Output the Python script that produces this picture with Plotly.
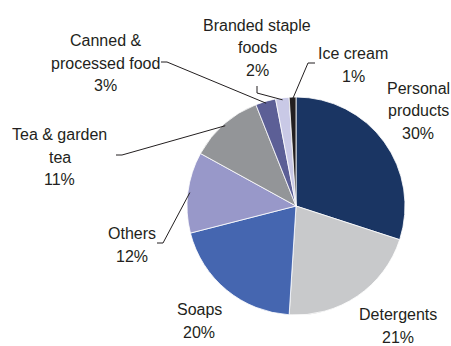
import math
import plotly.graph_objects as go

categories = ["Personal products", "Detergents", "Soaps", "Others",
              "Tea & garden tea", "Canned & processed food",
              "Branded staple foods", "Ice cream"]
values = [30, 21, 20, 12, 11, 3, 2, 1]
label_lines = [["Personal", "products", "30%"], ["Detergents", "21%"], ["Soaps", "20%"],
               ["Others", "12%"], ["Tea & garden", "tea", "11%"],
               ["Canned &", "processed food", "3%"], ["Branded staple", "foods", "2%"],
               ["Ice cream", "1%"]]
colors = ["#1a3563", "#c8c9cb", "#4566b0", "#9898c9", "#939598",
          "#5c5f96", "#c9c9e6", "#231f20"]

W, H = 451, 346
CX, CY, R = 296, 206, 109  # pie centre / radius in px (layout)
LINE_H = 22.8

# label centres in px (layout), and leader elbow points (None = no leader)
label_pos = [(418, 111), (398, 326), (199, 321), (132, 245), (60, 157),
             (105, 63), (257, 48), (353, 65)]
leader = [None, None, None,
          [(157, 243), (163, 243)],
          [(116, 155), (122, 155)],
          [(161, 62), (167, 62)],
          [(257, 86), (257, 93)],
          [(315, 63), (308, 63)]]

FONT = "Liberation Sans Narrow, Arial Narrow, Liberation Sans, Arial, sans-serif"
TXT = "#231f20"

fig = go.Figure(go.Pie(
    labels=categories, values=values, sort=False, direction="clockwise",
    rotation=0, marker=dict(colors=colors, line=dict(color="white", width=0.8)),
    textinfo="none", hoverinfo="label+percent", showlegend=False,
    domain=dict(x=[(CX - R) / W, (CX + R) / W], y=[1 - (CY + R) / H, 1 - (CY - R) / H]),
))

def px2paper(x, y):
    return x / W, 1 - y / H

total = sum(values)
cum = 0
annotations, shapes = [], []
for i, v in enumerate(values):
    mid = (cum + v / 2) / total * 2 * math.pi
    cum += v
    lx, ly = label_pos[i]
    lines = label_lines[i]
    n = len(lines)
    for k, t in enumerate(lines):
        yy = ly + (k - (n - 1) / 2) * LINE_H
        px, py = px2paper(lx, yy)
        annotations.append(dict(x=px, y=py, xref="paper", yref="paper", text=t,
                                showarrow=False, xanchor="center", yanchor="middle",
                                align="center", font=dict(family=FONT, size=16, color=TXT)))
    if leader[i]:
        ex = CX + (R - 2) * math.sin(mid)
        ey = CY - (R - 2) * math.cos(mid)
        pts = leader[i] + [(ex, ey)]
        path = "M " + " L ".join(f"{px2paper(a, b)[0]},{px2paper(a, b)[1]}" for a, b in pts)
        shapes.append(dict(type="path", path=path, xref="paper", yref="paper",
                           line=dict(color=TXT, width=1)))

fig.update_layout(width=W, height=H, margin=dict(l=0, r=0, t=0, b=0),
                  paper_bgcolor="white", plot_bgcolor="white",
                  annotations=annotations, shapes=shapes)
fig.write_html("out.html")
